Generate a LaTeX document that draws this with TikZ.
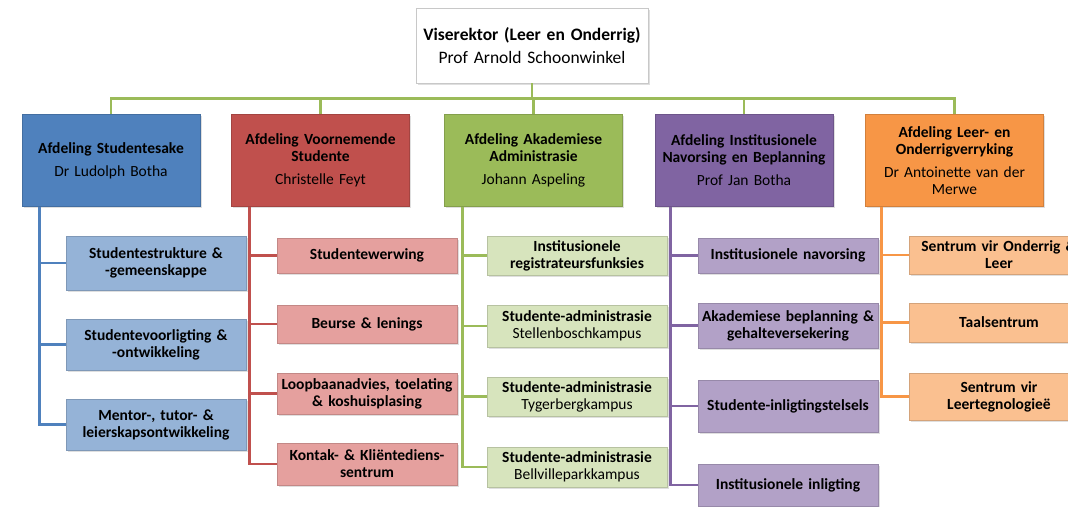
\documentclass[tikz,border=0pt]{standalone}
\usepackage{fontspec}
\setmainfont{Carlito}[WordSpace=0.85]
\usepackage{tikz}
\usetikzlibrary{shadows}
\definecolor{hoofgrys}{RGB}{200, 200, 200}
\definecolor{blouafd}{RGB}{79, 129, 189}
\definecolor{rooiafd}{RGB}{192, 80, 77}
\definecolor{groenafd}{RGB}{155, 187, 89}
\definecolor{persafd}{RGB}{128, 100, 162}
\definecolor{oranjeafd}{RGB}{247, 150, 70}
\definecolor{blouonder}{RGB}{149, 179, 215}
\definecolor{rooionder}{RGB}{229, 160, 158}
\definecolor{groenonder}{RGB}{215, 228, 189}
\definecolor{personder}{RGB}{178, 161, 199}
\definecolor{oranjeonder}{RGB}{250, 192, 144}

\begin{document}
\begin{tikzpicture}[x=1pt, y=-1pt,
    blok/.style={draw=#1!85!black, fill=#1, align=center, inner sep=2pt, line width=0.5pt,
        drop shadow={opacity=0.25, shadow xshift=1.5pt, shadow yshift=-1.5pt}},
    afd/.style={blok=#1, text width=174pt, minimum height=92pt, font=\fontsize{15.5}{17}\selectfont},
    onder/.style={blok=#1, text width=176pt, font=\bfseries\fontsize{15.5}{17}\selectfont},
    lyn/.style={line width=2.6pt, draw=#1}]
    \useasboundingbox (0,0) rectangle (1068,506);

    % Viserektor
    \node[blok=white, draw=hoofgrys, text width=228pt, minimum height=75pt,
        font=\fontsize{17.5}{20}\selectfont] (vr) at (532,45.5)
        {\textbf{Viserektor (Leer en Onderrig)}\\[3pt]Prof Arnold Schoonwinkel};

    % Afdelings
    \node[afd=blouafd] (d1) at (111,160.5) {\textbf{Afdeling Studentesake}\\[6pt]Dr Ludolph Botha};
    \node[afd=rooiafd] (d2) at (320.5,160.5) {\textbf{Afdeling Voornemende}\\\textbf{Studente}\\[6pt]Christelle Feyt};
    \node[afd=groenafd] (d3) at (533.5,160.5) {\textbf{Afdeling Akademiese}\\\textbf{Administrasie}\\[6pt]Johann Aspeling};
    \node[afd=persafd] (d4) at (744,160.5) {\textbf{Afdeling Institusionele}\\\textbf{Navorsing en Beplanning}\\[6pt]Prof Jan Botha};
    \node[afd=oranjeafd] (d5) at (954.5,160.5) {\textbf{Afdeling Leer- en}\\\textbf{Onderrigverryking}\\[6pt]Dr Antoinette van der\\Merwe};

    \foreach \d in {d1,d2,d3,d4,d5}
        \draw[lyn=groenafd] (vr.south) -- ++(0,15) -| (\d.north);

    % Studentesake
    \node[onder=blouonder, minimum height=54pt] (s11) at (156,263) {Studentestrukture \&\\-gemeenskappe};
    \node[onder=blouonder, minimum height=51pt] (s12) at (156,344.5) {Studentevoorligting \&\\-ontwikkeling};
    \node[onder=blouonder, minimum height=51pt] (s13) at (156,424.5) {Mentor-, tutor- \&\\leierskapsontwikkeling};

    % Voornemende Studente
    \node[onder=rooionder, minimum height=35pt] (s21) at (367,255.5) {Studentewerwing};
    \node[onder=rooionder, minimum height=38pt] (s22) at (367,324) {Beurse \& lenings};
    \node[onder=rooionder, minimum height=41pt] (s23) at (367,393.5) {Loopbaanadvies, toelating\\\& koshuisplasing};
    \node[onder=rooionder, minimum height=42pt] (s24) at (367,464) {Kontak- \& Kli\"entediens-\\sentrum};

    % Akademiese Administrasie
    \node[onder=groenonder, minimum height=39pt] (s31) at (577,255.5) {Institusionele\\registrateursfunksies};
    \node[onder=groenonder, minimum height=42pt] (s32) at (577,326) {Studente-administrasie\\\mdseries Stellenboschkampus};
    \node[onder=groenonder, minimum height=39pt] (s33) at (577,396.5) {Studente-administrasie\\\mdseries Tygerbergkampus};
    \node[onder=groenonder, minimum height=40pt] (s34) at (577,467) {Studente-administrasie\\\mdseries Bellvilleparkkampus};

    % Institusionele Navorsing
    \node[onder=personder, minimum height=35pt] (s41) at (788,255.5) {Institusionele navorsing};
    \node[onder=personder, minimum height=45pt] (s42) at (788,325.5) {Akademiese beplanning \&\\gehalteversekering};
    \node[onder=personder, minimum height=52pt] (s43) at (788,406) {Studente-inligtingstelsels};
    \node[onder=personder, minimum height=42pt] (s44) at (788,485) {Institusionele inligting};

    % Leer- en Onderrigverryking
    \node[onder=oranjeonder, minimum height=38pt] (s51) at (999,255) {Sentrum vir Onderrig \&\\Leer};
    \node[onder=oranjeonder, minimum height=39pt] (s52) at (999,322.5) {Taalsentrum};
    \node[onder=oranjeonder, minimum height=47pt] (s53) at (999,396.5) {Sentrum vir\\Leertegnologie\"e};

    % verbindings
    \foreach \s in {s11,s12,s13}
        \draw[lyn=blouafd] (d1.south west) ++(18,0) |- (\s.west);
    \foreach \s in {s21,s22,s23,s24}
        \draw[lyn=rooiafd] (d2.south west) ++(18,0) |- (\s.west);
    \foreach \s in {s31,s32,s33,s34}
        \draw[lyn=groenafd] (d3.south west) ++(18,0) |- (\s.west);
    \foreach \s in {s41,s42,s43,s44}
        \draw[lyn=persafd] (d4.south west) ++(16,0) |- (\s.west);
    \foreach \s in {s51,s52,s53}
        \draw[lyn=oranjeafd] (d5.south west) ++(16,0) |- (\s.west);
\end{tikzpicture}
\end{document}
